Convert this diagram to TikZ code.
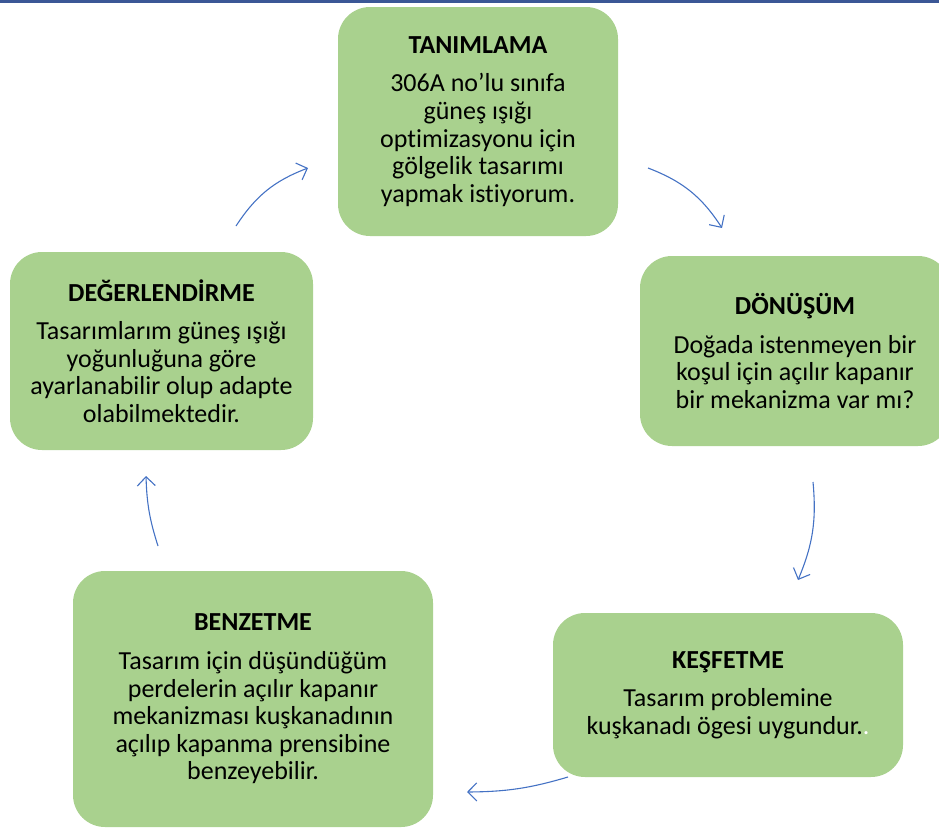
\documentclass[tikz,border=0pt]{standalone}
\usepackage{fontspec}
\setmainfont{Carlito}[Ligatures=NoCommon]
\usetikzlibrary{arrows.meta}
\definecolor{boxgreen}{HTML}{A9D18E}
\definecolor{arrowblue}{HTML}{4472C4}
\definecolor{topline}{RGB}{59,87,150}
\tikzset{
  stagebox/.style={fill=boxgreen, rounded corners=32pt, align=center, inner sep=0pt,
    font=\fontsize{26}{27.6}\selectfont, text=black},
  cyclearrow/.style={draw=arrowblue, line width=1.1pt, -{Straight Barb[length=9pt,width=18pt]}, bend left=18},
}
\newcommand{\ttl}[1]{\textbf{#1}\\[11pt]}
\begin{document}
\begin{tikzpicture}[x=1pt,y=-1pt]
\useasboundingbox (0,0) rectangle (939,827);
\clip (0,0) rectangle (939,827);
\fill[topline] (0,0) rectangle (939,2.5);

\node[stagebox, minimum width=280pt, minimum height=229pt] (tan) at (478,121.5)
  {\ttl{TANIMLAMA}306A no’lu sınıfa\\güneş ışığı\\optimizasyonu için\\gölgelik tasarımı\\yapmak istiyorum.};
\node[stagebox, minimum width=310pt, minimum height=190pt] (don) at (795,351)
  {\ttl{DÖNÜŞÜM}Doğada istenmeyen bir\\koşul için açılır kapanır\\bir mekanizma var mı?};
\node[stagebox, minimum width=350pt, minimum height=164pt] (kes) at (728,695)
  {\ttl{KEŞFETME}Tasarım problemine\\kuşkanadı ögesi uygundur.\textcolor{white}{.}};
\node[stagebox, minimum width=360pt, minimum height=256pt] (ben) at (253,699)
  {\ttl{BENZETME}Tasarım için düşündüğüm\\perdelerin açılır kapanır\\mekanizması kuşkanadının\\açılıp kapanma prensibine\\benzeyebilir.};
\node[stagebox, minimum width=303pt, minimum height=198pt] (deg) at (161.5,351)
  {\ttl{DEĞERLENDİRME}Tasarımlarım güneş ışığı\\yoğunluğuna göre\\ayarlanabilir olup adapte\\olabilmektedir.};

\coordinate (a1s) at (236,226); \coordinate (a1e) at (308,168);
\coordinate (a2s) at (648,168); \coordinate (a2e) at (722,228);
\coordinate (a3s) at (813,482); \coordinate (a3e) at (798,580);
\coordinate (a4s) at (568,777); \coordinate (a4e) at (467,792);
\coordinate (a5s) at (158,546); \coordinate (a5e) at (146,476);

\draw[cyclearrow] (a1s) to (a1e);
\draw[cyclearrow] (a2s) to (a2e);
\draw[cyclearrow, bend left=14] (a3s) to (a3e);
\draw[cyclearrow, bend left=8] (a4s) to (a4e);
\draw[cyclearrow, bend left=8] (a5s) to (a5e);
\end{tikzpicture}
\end{document}
